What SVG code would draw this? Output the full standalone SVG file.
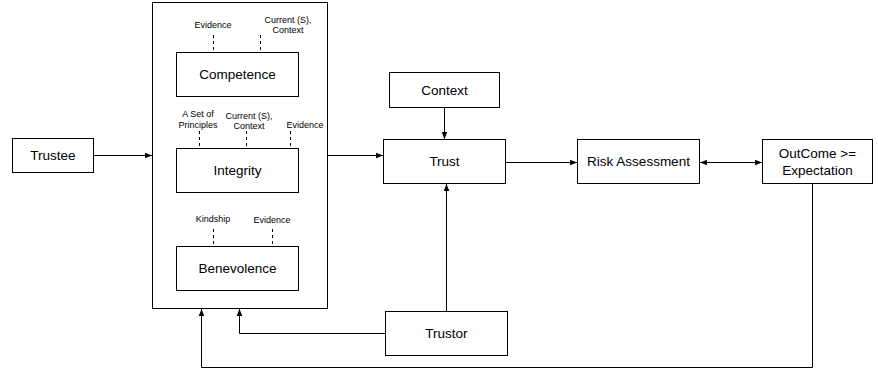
<svg xmlns="http://www.w3.org/2000/svg" width="878" height="371" viewBox="0 0 878 371">
<style>
.box{fill:#fff;stroke:#000;stroke-width:1}
.big{fill:none;stroke:#000;stroke-width:1}
.t{font-family:"Liberation Sans",Arial,sans-serif;font-size:13.5px;fill:#000;text-anchor:middle}
.s{font-family:"Liberation Sans",Arial,sans-serif;font-size:9px;fill:#000;text-anchor:middle}
.c{fill:none;stroke:#000;stroke-width:1}
.d{fill:none;stroke:#000;stroke-width:1;stroke-dasharray:3,3}
</style>
<defs>
<marker id="ah" viewBox="0 0 10 10" refX="10" refY="5" markerWidth="7" markerHeight="7" orient="auto-start-reverse" markerUnits="userSpaceOnUse">
<path d="M0,1 L10,5 L0,9 z" fill="#000"/>
</marker>
</defs>
<g id="outer-box"><rect class="big" x="152.5" y="2.5" width="175" height="306"/></g>
<g id="competence">
<rect class="box" x="176.5" y="52.5" width="122" height="44"/>
<text class="t" x="237.5" y="79">Competence</text>
<text class="s" x="213" y="28">Evidence</text>
<text class="s" x="288" y="23">Current (S),</text>
<text class="s" x="288" y="33">Context</text>
</g>
<g id="integrity">
<rect class="box" x="176.5" y="148.5" width="122" height="44"/>
<text class="t" x="237.5" y="175">Integrity</text>
<text class="s" x="198" y="117">A Set of</text>
<text class="s" x="198" y="128">Principles</text>
<text class="s" x="249" y="119">Current (S),</text>
<text class="s" x="249" y="129">Context</text>
<text class="s" x="305" y="128">Evidence</text>
</g>
<g id="benevolence">
<rect class="box" x="176.5" y="246.5" width="122" height="44"/>
<text class="t" x="237.5" y="273">Benevolence</text>
<text class="s" x="213" y="222">Kindship</text>
<text class="s" x="272" y="223">Evidence</text>
</g>
<g id="trustee">
<rect class="box" x="12.5" y="138.5" width="81" height="34"/>
<text class="t" x="53" y="160">Trustee</text>
</g>
<g id="context">
<rect class="box" x="389.5" y="72.5" width="110" height="35"/>
<text class="t" x="444.5" y="94.5">Context</text>
</g>
<g id="trust">
<rect class="box" x="383.5" y="139.5" width="122" height="44"/>
<text class="t" x="444.5" y="166">Trust</text>
</g>
<g id="risk-assessment">
<rect class="box" x="577.5" y="139.5" width="122" height="44"/>
<text class="t" x="638.5" y="166">Risk Assessment</text>
</g>
<g id="outcome">
<rect class="box" x="762.5" y="139.5" width="110" height="44"/>
<text class="t" x="817.5" y="158">OutCome &gt;=</text>
<text class="t" x="817.5" y="175">Expectation</text>
</g>
<g id="trustor">
<rect class="box" x="385.5" y="311.5" width="122" height="44"/>
<text class="t" x="446.5" y="338">Trustor</text>
</g>
<g id="connectors">
<path class="d" d="M213.5,35 V52"/>
<path class="d" d="M260.5,35 V52"/>
<path class="d" d="M199.5,131 V148"/>
<path class="d" d="M246.5,131 V148"/>
<path class="d" d="M290.5,131 V148"/>
<path class="d" d="M213.5,229 V246"/>
<path class="d" d="M272.5,229 V246"/>
<path class="c" d="M93.5,155.5 H152" marker-end="url(#ah)"/>
<path class="c" d="M328,155.5 H383" marker-end="url(#ah)"/>
<path class="c" d="M444.5,108 V139" marker-end="url(#ah)"/>
<path class="c" d="M506,162.5 H577" marker-end="url(#ah)"/>
<path class="c" d="M700,162.5 H762" marker-start="url(#ah)" marker-end="url(#ah)"/>
<path class="c" d="M446.5,311 V184" marker-end="url(#ah)"/>
<path class="c" d="M385.5,333.5 H239.5 V309" marker-end="url(#ah)"/>
<path class="c" d="M812.5,184 V367.5 H201.5 V309" marker-end="url(#ah)"/>
</g>
</svg>
